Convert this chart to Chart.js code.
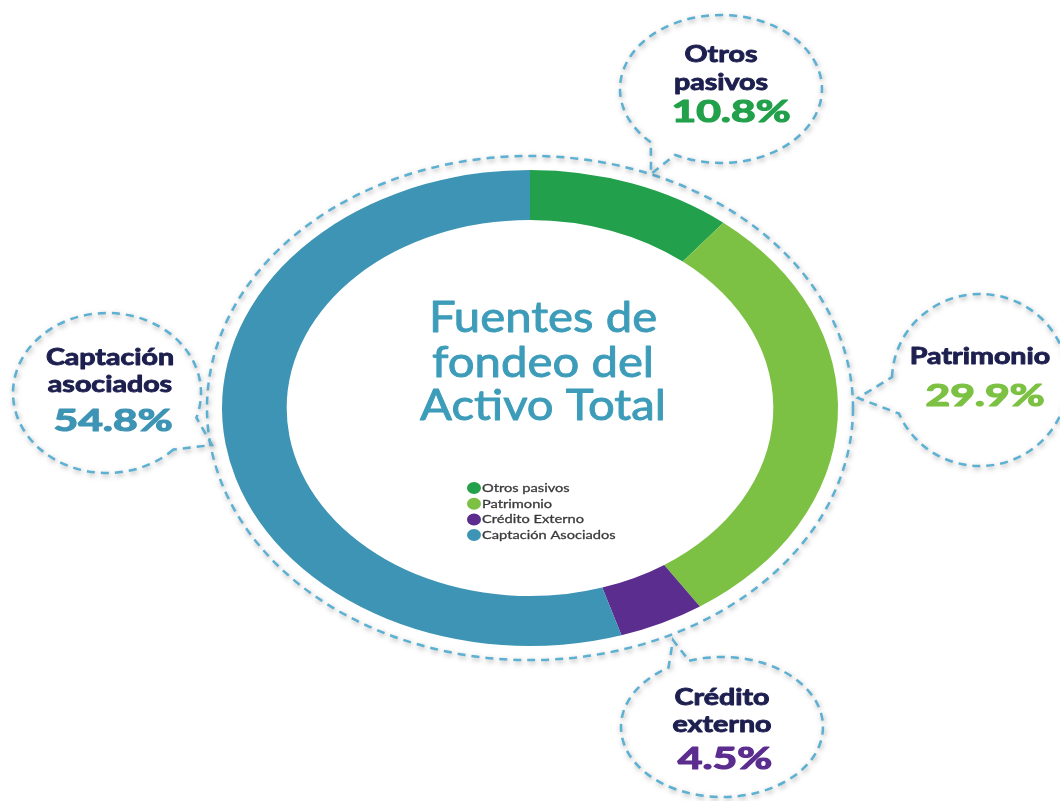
<!DOCTYPE html>
<html>
<head>
<meta charset="utf-8">
<script src="https://cdn.jsdelivr.net/npm/chart.js@4"></script>
<style>
  html, body { margin: 0; background: #fff; }
  canvas { display: block; }
</style>
</head>
<body>
<canvas id="graph" width="1060" height="801"></canvas>
<script>
// data
const categories = ['Otros pasivos', 'Patrimonio', 'Crédito Externo', 'Captación Asociados'];
const shares = [10.8, 29.9, 4.5, 54.8];
const calloutNames = [['Otros', 'pasivos'], ['Patrimonio'], ['Crédito', 'externo'], ['Captación', 'asociados']];
const titleLines = ['Fuentes de', 'fondeo del', 'Activo Total'];

const segmentColors = ['#22a04b', '#7cc143', '#5b2d8f', '#3e94b4'];
const navy = '#1d1f4f';
const dashBlue = '#5cb0d2';
const squash = 0.773; // the picture is stretched sideways

// where each speech bubble sits (same order as categories)
const callouts = [
  { cx: 721, cy: 89, rx: 101, ry: 74, g1: 117, g2: 134, tip: [651, 174], x: 721, lines: [62, 90], px: 731, py: 122 },
  { cx: 980, cy: 380, rx: 88, ry: 86, g1: 157, g2: 182, tip: [858, 398], x: 980, lines: [364], px: 985, py: 406 },
  { cx: 722, cy: 727, rx: 101, ry: 70, g1: 238, g2: 251, tip: [673, 640], x: 722, lines: [705, 732], px: 725, py: 769 },
  { cx: 107, cy: 393, rx: 94, ry: 80, g1: 18, g2: 45, tip: [212, 445], x: 110, lines: [365, 392], px: 113, py: 431 }
];

const rad = d => d * Math.PI / 180;

// text drawn wider than the font, with an optional stroke to thicken it
function wideText(ctx, text, x, y, sx, thick) {
  ctx.save();
  ctx.translate(x, y);
  ctx.scale(sx, 1);
  ctx.fillText(text, 0, 0);
  if (thick) {
    ctx.lineWidth = thick;
    ctx.strokeStyle = ctx.fillStyle;
    ctx.lineJoin = 'round';
    ctx.strokeText(text, 0, 0);
  }
  ctx.restore();
}

function dashed(ctx) {
  ctx.setLineDash([8, 6]);
  ctx.lineWidth = 2.5;
  ctx.strokeStyle = dashBlue;
  ctx.shadowColor = 'rgba(80,80,80,0.5)';
  ctx.shadowBlur = 5;
  ctx.shadowOffsetX = 1;
  ctx.shadowOffsetY = 2;
}

const ellipseRing = {
  id: 'ellipseRing',
  beforeDatasetsDraw(chart) {
    const arc = chart.getDatasetMeta(0).data[0];
    const ctx = chart.ctx;
    ctx.save();
    ctx.translate(arc.x, arc.y);
    ctx.scale(1, squash);
    ctx.translate(-arc.x, -arc.y);
  },
  afterDatasetsDraw(chart) {
    chart.ctx.restore();
  }
};

const decorations = {
  id: 'decorations',
  afterDraw(chart) {
    const ctx = chart.ctx;
    const arc = chart.getDatasetMeta(0).data[0];
    const R = arc.outerRadius;

    // dashed ring around the doughnut
    ctx.save();
    dashed(ctx);
    ctx.beginPath();
    ctx.ellipse(arc.x, arc.y, R + 15, R * squash + 14, 0, 0, Math.PI * 2);
    ctx.stroke();
    ctx.restore();

    // bubbles
    callouts.forEach((c, i) => {
      ctx.save();
      dashed(ctx);
      ctx.beginPath();
      ctx.ellipse(c.cx, c.cy, c.rx, c.ry, 0, rad(c.g2), rad(c.g1 + 360));
      ctx.lineTo(c.tip[0], c.tip[1]);
      ctx.closePath();
      ctx.stroke();
      ctx.restore();

      ctx.save();
      ctx.textAlign = 'center';
      ctx.textBaseline = 'alphabetic';
      ctx.fillStyle = navy;
      ctx.font = 'bold 22px Lato';
      calloutNames[i].forEach((t, k) => wideText(ctx, t, c.x, c.lines[k], 1.3, 0.9));
      ctx.fillStyle = segmentColors[i];
      ctx.font = 'bold 30px Lato';
      wideText(ctx, shares[i].toFixed(1) + '%', c.px, c.py, 1.42, 1.2);
      ctx.restore();
    });

    // title in the hole
    ctx.save();
    ctx.textAlign = 'center';
    ctx.fillStyle = '#3d9cb9';
    ctx.font = '43px Lato';
    const ty = [332, 377, 420];
    titleLines.forEach((t, k) => wideText(ctx, t, 543, ty[k], 1.1, 0.9));
    ctx.restore();

    // small legend in the hole
    ctx.save();
    ctx.font = '12px Lato';
    ctx.textBaseline = 'middle';
    ctx.textAlign = 'left';
    const ds = chart.data.datasets[0];
    chart.data.labels.forEach((lab, k) => {
      const y = 488 + k * 15.7;
      ctx.fillStyle = ds.backgroundColor[k];
      ctx.beginPath();
      ctx.ellipse(474, y, 7, 6, 0, 0, Math.PI * 2);
      ctx.fill();
      ctx.fillStyle = '#3a3a3a';
      wideText(ctx, lab, 482, y, 1.22, 0.3);
    });
    ctx.restore();
  }
};

new Chart(document.getElementById('graph'), {
  type: 'doughnut',
  data: {
    labels: categories,
    datasets: [{
      data: shares,
      backgroundColor: segmentColors,
      borderWidth: 0
    }]
  },
  options: {
    responsive: false,
    animation: false,
    cutout: '79%',
    layout: { padding: { left: 222, right: 222, top: 100, bottom: 85 } },
    plugins: {
      legend: { display: false },
      tooltip: { enabled: false }
    }
  },
  plugins: [ellipseRing, decorations]
});
</script>
</body>
</html>
